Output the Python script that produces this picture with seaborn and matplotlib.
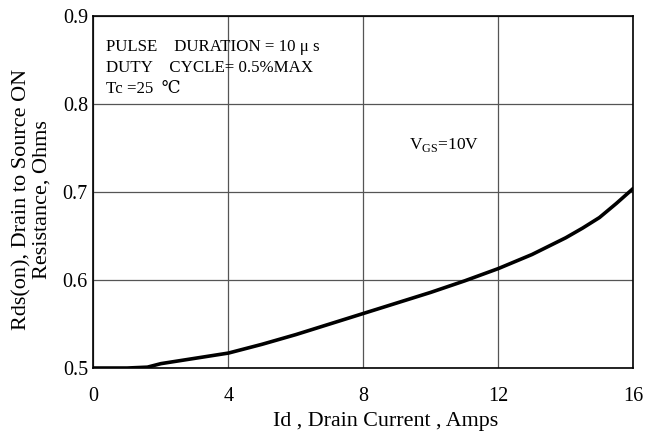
import matplotlib
matplotlib.use("Agg")
import matplotlib.pyplot as plt
import seaborn as sns
import pandas as pd

# Data
drain_current = [0, 0.5, 1.0, 1.6, 2.0, 3.0, 4.0, 5.0, 6.0, 7.0, 8.0, 9.0, 10.0, 11.0, 12.0, 13.0, 14.0, 14.5, 15.0, 15.5, 16.0]
rds_on = [0.500, 0.500, 0.500, 0.501, 0.505, 0.511, 0.517, 0.527, 0.538, 0.550, 0.562, 0.574, 0.586, 0.599, 0.613, 0.629, 0.648, 0.659, 0.671, 0.687, 0.704]
x_ticks = [0, 4, 8, 12, 16]
y_ticks = [0.5, 0.6, 0.7, 0.8, 0.9]
y_tick_labels = ["0.5", "0.6", "0.7", "0.8", "0.9"]

sns.set_theme(style="white")
plt.rcParams["font.family"] = ["Liberation Serif", "DejaVu Serif"]
plt.rcParams["mathtext.fontset"] = "custom"
plt.rcParams["mathtext.rm"] = "Liberation Serif"

df = pd.DataFrame({"Id": drain_current, "Rds": rds_on})

fig = plt.figure(figsize=(6.51, 4.34), dpi=100)
ax = fig.add_axes([0.1436, 0.152, 0.829, 0.811])

sns.lineplot(data=df, x="Id", y="Rds", ax=ax, color="black", linewidth=2.6)

ax.set_xlim(0, 16)
ax.set_ylim(0.5, 0.9)
ax.set_xticks(x_ticks)
ax.set_yticks(y_ticks)
ax.set_yticklabels(y_tick_labels)
ax.grid(True, color="#555555", linewidth=0.9)
for s in ax.spines.values():
    s.set_color("black")
    s.set_linewidth(1.2)
ax.tick_params(axis="y", labelsize=14.5, colors="black", length=0, pad=4)
ax.tick_params(axis="x", labelsize=14.5, colors="black", length=0, pad=14)

ax.set_xlabel("Id , Drain Current , Amps", fontsize=15.8, color="black", labelpad=5)
ax.xaxis.set_label_coords(0.541, -0.125)
ax.set_ylabel("Rds(on), Drain to Source ON\nResistance, Ohms", fontsize=16, color="black", labelpad=6,
              linespacing=1.05)
ax.yaxis.set_label_coords(-0.078, 0.48)

ax.text(0.37, 0.874, "PULSE    DURATION = 10 \u03bc s\nDUTY    CYCLE= 0.5%MAX\nTc =25  \u2103",
        fontsize=12.2, va="top", ha="left", color="black", linespacing=1.4,
        family=["Liberation Serif", "DejaVu Serif"])
ax.text(9.35, 0.7534, "V$_{\\mathrm{GS}}$=10V", fontsize=12.5, va="center", ha="left", color="black")

fig.savefig("out.png", dpi=100)
